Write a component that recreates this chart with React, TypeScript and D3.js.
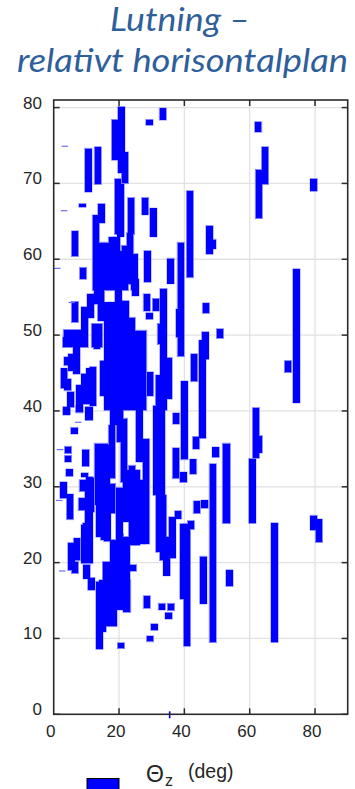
import React from "react";
import * as d3 from "d3";

// Tilt relative to the horizontal plane: each bar spans [low, high] at a given Θz.
const xTickValues = [0, 20, 40, 60, 80];
const yTickValues = [0, 10, 20, 30, 40, 50, 60, 70, 80];
const titleLines = ["Lutning –", "relativt horisontalplan"];
const legendLabel = "Θ";
const legendSub = "z";
const legendUnit = "(deg)";

// [Θz (deg), low, high]
const bars: [number, number, number][] = [
  // upper part
  [20.7, 71.4, 80.1], [18.8, 73.1, 78.4], [21.8, 70.0, 74.1], [33.4, 78.4, 79.9],
  [29.3, 77.7, 78.4], [10.6, 68.9, 74.6], [13.5, 69.9, 74.8], [8.8, 66.9, 67.3],
  [14.6, 64.8, 67.3], [12.9, 55.9, 65.8], [19.7, 63.3, 70.6], [20.5, 63.0, 69.9],
  [23.7, 63.3, 68.1], [28.0, 65.9, 68.1], [30.5, 63.0, 66.7], [41.7, 57.6, 69.0],
  [47.7, 60.7, 64.4], [48.6, 61.4, 62.6], [62.6, 76.8, 78.1], [64.7, 69.9, 74.8],
  [62.8, 65.4, 71.8], [79.6, 69.0, 70.6], [74.3, 41.1, 58.7], [71.7, 45.1, 46.6],
  [6.5, 60.4, 63.7], [9.0, 57.4, 58.9],
  // 50–63
  [14.8, 55.9, 62.2], [15.9, 55.9, 62.2], [16.3, 55.9, 61.4], [17.8, 55.9, 62.9],
  [19.3, 55.9, 62.9], [19.8, 50.2, 61.1], [21.8, 55.9, 61.8], [23.4, 56.7, 63.5],
  [24.7, 55.9, 60.7], [25.0, 55.2, 57.4], [28.7, 57.0, 61.1], [35.8, 56.8, 60.1],
  [38.9, 47.2, 62.2], [13.4, 54.1, 61.1], [14.5, 51.9, 55.9], [11.3, 52.3, 55.4],
  [9.5, 48.4, 53.7], [6.5, 51.7, 54.4], [28.5, 53.2, 55.4], [31.3, 53.2, 54.8],
  [29.3, 52.1, 52.9], [33.6, 40.1, 56.1], [32.8, 48.8, 51.5], [38.5, 49.7, 53.4],
  [46.6, 52.9, 54.2], [50.9, 49.6, 50.8], [46.4, 46.8, 50.4], [45.5, 36.4, 49.3],
  [43.0, 43.9, 47.5], [40.0, 33.6, 43.9], [37.5, 38.3, 39.7], [43.6, 35.0, 36.6],
  [61.9, 33.8, 40.4], [62.8, 34.5, 36.7], [49.6, 33.9, 35.2], [52.7, 25.2, 35.7],
  [37.4, 31.1, 35.1], [42.7, 31.7, 33.6], [60.8, 25.2, 33.7], [39.7, 30.6, 31.9],
  [35.2, 41.6, 47.0],
  // left cluster 38–52
  [12.6, 48.4, 51.5], [13.9, 48.4, 51.5], [13.2, 48.2, 49.3], [8.6, 49.3, 50.6],
  [4.0, 48.4, 50.7], [6.0, 48.4, 50.7], [8.0, 48.4, 50.7], [3.8, 48.4, 49.7],
  [7.0, 44.9, 48.4], [4.2, 46.0, 47.1], [5.5, 45.3, 47.5], [3.2, 43.0, 45.6],
  [4.3, 42.7, 44.2], [5.2, 40.5, 42.5], [3.9, 39.5, 40.5], [7.9, 39.8, 43.4],
  [9.5, 42.3, 44.9], [10.1, 40.9, 44.4], [12.0, 40.7, 45.8], [11.0, 41.5, 45.6],
  [10.9, 38.8, 40.5], [15.2, 42.0, 46.6], [15.8, 45.8, 46.6],
  // central block 40–55
  [16.5, 40.1, 54.3], [17.8, 40.1, 54.3], [19.2, 40.1, 54.3], [20.5, 40.1, 54.5],
  [22.0, 40.1, 54.5], [23.9, 40.1, 52.3], [25.4, 40.1, 50.6], [27.4, 40.1, 50.6],
  [29.5, 42.0, 45.1], [32.2, 30.9, 44.7],
  // central block 19–40
  [18.3, 38.1, 40.7], [17.8, 31.1, 38.1], [17.9, 26.5, 30.4], [16.2, 26.5, 35.5],
  [16.4, 22.8, 28.4], [13.6, 27.6, 35.5], [14.0, 23.4, 30.6], [15.4, 23.0, 32.2],
  [20.3, 35.9, 40.7], [21.5, 30.6, 39.0], [22.2, 25.4, 30.6], [20.1, 19.7, 29.8],
  [18.8, 19.7, 22.7], [22.3, 13.5, 23.4], [24.0, 22.3, 32.8], [25.4, 22.3, 32.2],
  [26.2, 33.3, 40.7], [28.3, 22.5, 36.3], [27.0, 22.5, 30.9], [31.5, 28.9, 40.7],
  [33.0, 28.9, 40.7], [32.3, 21.4, 34.1], [33.5, 20.3, 28.9], [23.3, 28.2, 32.2],
  // left 16–40
  [4.0, 39.6, 40.5], [7.8, 39.8, 40.7], [10.7, 38.8, 40.5], [6.3, 37.0, 37.8],
  [4.4, 34.4, 35.3], [4.4, 33.3, 34.1], [4.8, 31.4, 32.3], [9.8, 32.7, 34.9],
  [9.5, 31.3, 31.8], [8.9, 29.4, 30.9], [3.0, 28.5, 30.6], [5.0, 25.7, 29.0],
  [8.6, 26.9, 28.5], [11.4, 26.7, 31.2], [10.6, 21.4, 29.4], [10.9, 19.9, 31.3],
  [13.5, 30.9, 35.7], [15.5, 30.9, 35.7], [5.4, 19.0, 22.6], [7.1, 20.3, 23.2],
  [6.5, 18.6, 20.1], [9.9, 21.4, 25.2], [9.5, 19.9, 25.0], [10.1, 17.9, 19.7],
  [11.5, 16.4, 18.0],
  // lower part
  [14.0, 8.6, 17.5], [15.0, 10.9, 17.7], [16.0, 11.6, 20.1], [17.8, 11.6, 20.1],
  [18.3, 11.6, 23.0], [19.0, 15.5, 20.3], [20.3, 13.8, 23.8], [22.5, 13.5, 17.7],
  [24.3, 18.9, 19.7], [20.3, 26.2, 29.9], [28.5, 14.0, 15.6], [33.1, 13.8, 14.6],
  [35.9, 13.7, 14.6], [35.2, 12.6, 13.4], [30.8, 11.1, 11.9], [29.5, 9.6, 10.3],
  [20.6, 8.7, 9.4], [34.6, 18.3, 23.4], [36.3, 20.6, 26.0], [38.1, 25.8, 26.8],
  [39.7, 15.2, 25.1], [40.8, 9.0, 25.1], [42.0, 24.4, 25.5], [43.8, 26.5, 28.1],
  [46.2, 27.2, 28.2], [45.8, 14.6, 20.8], [53.8, 16.9, 19.0], [67.6, 9.5, 25.2],
  [79.6, 24.3, 26.2], [81.2, 22.7, 25.7], [48.7, 9.5, 33.0], [53.0, 25.2, 35.7],
];

// Single readings drawn as hairline dashes: [Θz, value]
const dashes: [number, number][] = [
  [3.4, 74.9], [3.2, 66.4], [1.1, 58.8], [5.5, 54.3], [7.5, 38.5],
  [1.9, 34.9], [1.7, 28.2], [2.6, 18.9],
];

// Short vertical mark sitting on the baseline: [Θz, value]
const baseMarks: [number, number][] = [[35.5, 0]];

const W = 355;
const H = 789;
const M = { left: 53.7, right: 347.7, top: 100, bottom: 714.3 };
const BAR_DEG = 2.0;
const BLUE = "#0000ff";
const EDGE = "#7a7aff";
const AXIS = "#2b2b2b";
const GRID = "#e2e2e2";
const TXT = "#262626";
const TITLE = "#2f5f9b";

export default function App() {
  const x = d3.scaleLinear().domain([0, 90]).range([M.left, M.right]);
  const y = d3.scaleLinear().domain([0, 81]).range([M.bottom, M.top]);
  const bw = x(BAR_DEG) - x(0);
  const tick = 6;

  const barRect = ([t, lo, hi]: [number, number, number]) => ({
    x: x(t) - bw / 2,
    y: y(hi),
    width: bw,
    height: Math.max(1, y(lo) - y(hi)),
  });

  return (
    <svg
      width={W}
      height={H}
      style={{ position: "absolute", left: 0, top: 0, background: "#fff" }}
      fontFamily="'Liberation Sans', Arial, sans-serif"
    >
      {/* title */}
      <g fontFamily="Lato, 'Open Sans', sans-serif" fontStyle="italic" fill={TITLE} fontSize={32}>
        <text x={110} y={31} textLength={140} lengthAdjust="spacingAndGlyphs">
          {titleLines[0]}
        </text>
        <text x={17} y={72} textLength={331} lengthAdjust="spacingAndGlyphs">
          {titleLines[1]}
        </text>
      </g>

      {/* grid */}
      <g stroke={GRID} strokeWidth={1.3}>
        {xTickValues.filter((v) => v > 0).map((v) => (
          <line key={"gx" + v} x1={x(v)} x2={x(v)} y1={M.top} y2={M.bottom} />
        ))}
        {yTickValues.filter((v) => v > 0).map((v) => (
          <line key={"gy" + v} x1={M.left} x2={M.right} y1={y(v)} y2={y(v)} />
        ))}
      </g>

      {/* bars: soft outer edge first, solid fill on top */}
      <g fill="none" stroke={EDGE} strokeWidth={1.4}>
        {bars.map((b, i) => (
          <rect key={"e" + i} {...barRect(b)} />
        ))}
      </g>
      <g fill={BLUE} shapeRendering="crispEdges">
        {bars.map((b, i) => (
          <rect key={"b" + i} {...barRect(b)} />
        ))}
      </g>
      <g stroke="#6d6dff" strokeWidth={1.2}>
        {dashes.map(([t, v], i) => (
          <line key={"d" + i} x1={x(t) - bw / 2} x2={x(t) + bw / 2} y1={y(v)} y2={y(v)} />
        ))}
      </g>
      <g stroke={BLUE} strokeWidth={1.6}>
        {baseMarks.map(([t, v], i) => (
          <line key={"m" + i} x1={x(t)} x2={x(t)} y1={y(v) - 3} y2={y(v) + 4} />
        ))}
      </g>

      {/* box and ticks */}
      <rect
        x={M.left}
        y={M.top}
        width={M.right - M.left}
        height={M.bottom - M.top}
        fill="none"
        stroke={AXIS}
        strokeWidth={1.6}
      />
      <g stroke={AXIS} strokeWidth={1.5}>
        {xTickValues.filter((v) => v > 0).map((v) => (
          <g key={"tx" + v}>
            <line x1={x(v)} x2={x(v)} y1={M.bottom} y2={M.bottom - tick} />
            <line x1={x(v)} x2={x(v)} y1={M.top} y2={M.top + tick} />
          </g>
        ))}
        {yTickValues.map((v) => (
          <g key={"ty" + v}>
            <line x1={M.left} x2={M.left + tick} y1={y(v)} y2={y(v)} />
            <line x1={M.right} x2={M.right - tick} y1={y(v)} y2={y(v)} />
          </g>
        ))}
      </g>

      {/* tick labels */}
      <g fill={TXT} fontSize={17}>
        {yTickValues.map((v) => (
          <text key={"ly" + v} x={42} y={y(v) - 4.5} textAnchor="end" dominantBaseline="central">
            {v}
          </text>
        ))}
        {xTickValues.map((v) => (
          <text key={"lx" + v} x={x(v) - 3} y={731.5} textAnchor="middle" dominantBaseline="central">
            {v}
          </text>
        ))}
      </g>

      {/* legend */}
      <rect x={87} y={778.5} width={32} height={14} fill={BLUE} stroke="#000" strokeWidth={1} />
      <text x={146} y={782} fill={TXT} fontSize={23}>
        {legendLabel}
      </text>
      <text x={165} y={786} fill={TXT} fontSize={16}>
        {legendSub}
      </text>
      <text x={188} y={777.5} fill={TXT} fontSize={19.5}>
        {legendUnit}
      </text>
    </svg>
  );
}
